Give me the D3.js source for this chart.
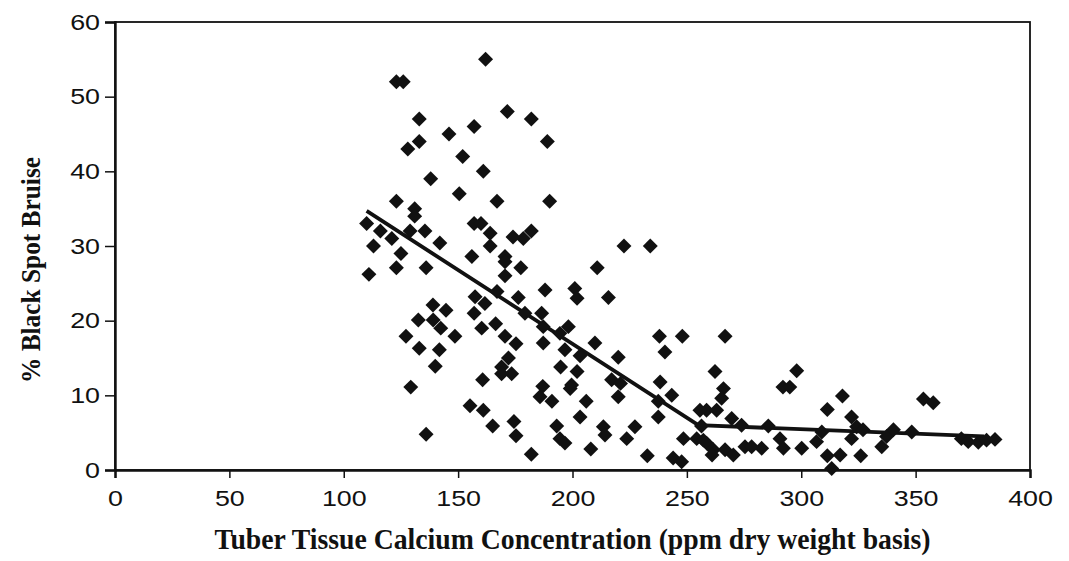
<!DOCTYPE html>
<html>
<head>
<meta charset="utf-8">
<script src="https://cdn.jsdelivr.net/npm/d3@7"></script>
<style>
  html, body { margin: 0; padding: 0; background: #fff; }
  svg { display: block; }
</style>
</head>
<body>
<svg id="chart" width="1069" height="561"></svg>
<script>
// ---- data ----
const xTicks = [0, 50, 100, 150, 200, 250, 300, 350, 400];
const yTicks = [0, 10, 20, 30, 40, 50, 60];
const xTitle = "Tuber Tissue Calcium Concentration (ppm dry weight basis)";
const yTitle = "% Black Spot Bruise";

const calcium = [
  162,123,126,133,171.5,182,157,146,189,133,128,152,161,138,150.5,167,190,123,131,131,110,157,160,116,121,129,135.5,164,182,178.5,174,142,164,113,125,156,170.5,
  111,123,136,170.5,177.4,170.5,188,167,176.3,157.4,161.7,157,179.2,186.5,139,144.7,132.6,139.1,142.4,160.3,166.4,148.6,127.2,170.5,175.3,187.2,187.2,133,141.8,140,172,169,173.4,169,160.7,129.3,187,185.8,155.2,161,165.1,174.4,175.3,136,182,
  222.5,234,210.8,201,202,215.7,198.2,
  194.5,196.7,209.8,220,203.3,194.8,202,199.6,217.1,221,220,206,191,203.3,193.1,213.5,214.2,227.3,223.7,196.7,194.5,208,232.7,238,248,266.7,240.4,238.3,243.4,237.5,237.5,262.3,266,265.2,258.6,263,269.6,273.9,256.4,248.5,254.3,258.6,261.6,266.7,270.3,275.4,244,247.7,261,199,255.7,257.2,
  298,292,295,318,311.4,322,324.2,327,322,285.6,290.7,292.2,282.7,278.3,300.2,309,306.7,311.4,317,326,313.3,335.2,337.3,340.3,
  353.4,357.7,348.3,370,373,377.4,381,384.7
];
const bruise = [
  55,52,52,47,48,47,46,45,44,44,43,42,40,39,37,36,36,36,35,34,33,33,33,32,31,32,32,31.7,32,31,31.2,30.4,30,30,29,28.6,28.6,
  26.2,27.1,27.1,27.9,27.1,26,24.1,23.9,23.1,23.2,22.3,21,21,21,22.1,21.4,20.1,20.1,19,19,19.6,17.9,17.9,17.9,16.9,19.2,17,16.3,16.1,13.9,15,13.8,12.9,12.9,12.1,11.1,11.2,9.8,8.6,8,5.9,6.5,4.6,4.8,2.1,
  30,30,27.1,24.3,23,23.1,19.2,
  18.3,16.1,17,15.1,15.3,13.8,13.2,11.4,12.1,11.6,9.8,9.2,9.2,7.1,5.9,5.8,4.7,5.8,4.2,3.6,4.2,2.8,1.9,17.9,17.9,17.9,15.8,11.8,10,9.2,7.1,13.2,10.9,9.6,8,8,6.9,6,5.9,4.2,4.2,3.6,2.7,2.7,2,3.1,1.6,1.1,2,10.9,8,4,
  13.3,11.1,11.1,9.9,8.1,7.1,5.8,5.4,4.2,5.9,4.2,2.9,2.9,3.1,2.9,5.1,3.8,1.9,2,1.9,0.2,3.1,4.5,5.4,
  9.5,9,5.1,4.2,3.8,3.7,4,4.1
];
// fitted broken-line regression (two segments)
const fitX = [110, 255, 380];
const fitY = [34.7, 6.0, 4.5];

// ---- chart ----
const svg = d3.select("#chart");
const x = d3.scaleLinear().domain([0, 400]).range([115, 1030]);
const y = d3.scaleLinear().domain([0, 60]).range([470, 22]);
const ink = "#111";

// frame
svg.append("rect")
  .attr("x", x(0)).attr("y", y(60))
  .attr("width", x(400) - x(0)).attr("height", y(0) - y(60))
  .attr("fill", "none").attr("stroke", ink).attr("stroke-width", 1.8);

// axes
const yAxis = svg.append("g").attr("transform", `translate(${x(0)},0)`)
  .call(d3.axisLeft(y).tickValues(yTicks).tickSize(10).tickPadding(5).tickFormat(d3.format("d")));
const xAxis = svg.append("g").attr("transform", `translate(0,${y(0)})`)
  .call(d3.axisBottom(x).tickValues(xTicks).tickSize(8).tickPadding(12).tickFormat(d3.format("d")));

[yAxis, xAxis].forEach(g => {
  g.select(".domain").attr("stroke", ink).attr("stroke-width", 2.4);
  g.selectAll(".tick line").attr("stroke", ink).attr("stroke-width", 1.5);
  g.selectAll(".tick text")
    .attr("fill", ink)
    .style("font-family", "'Liberation Sans', Arial, sans-serif")
    .style("font-size", "22px");
});
// slightly wide digits as in the reference
yAxis.selectAll(".tick text")
  .attr("transform", "translate(-15,0) scale(1.22,1) translate(15,0)");
xAxis.selectAll(".tick text").attr("transform", "scale(1.22,1)");

// regression line
svg.append("path")
  .datum(d3.range(fitX.length))
  .attr("fill", "none").attr("stroke", ink).attr("stroke-width", 3.8)
  .attr("d", d3.line().x(i => x(fitX[i])).y(i => y(fitY[i])));

// points
const diamond = d3.symbol().type(d3.symbolSquare).size(112);
svg.append("g").selectAll("path")
  .data(d3.range(calcium.length))
  .join("path")
  .attr("d", diamond)
  .attr("transform", i => `translate(${x(calcium[i])},${y(bruise[i])}) rotate(45)`)
  .attr("fill", ink);

// titles
svg.append("text")
  .attr("x", (x(0) + x(400)) / 2).attr("y", 549)
  .attr("text-anchor", "middle")
  .attr("textLength", 716).attr("lengthAdjust", "spacingAndGlyphs")
  .style("font-family", "'Liberation Serif', 'Times New Roman', serif")
  .style("font-weight", "bold").style("font-size", "29px")
  .attr("fill", ink)
  .text(xTitle);

svg.append("text")
  .attr("transform", "translate(40,270) rotate(-90)")
  .attr("text-anchor", "middle")
  .attr("textLength", 226).attr("lengthAdjust", "spacingAndGlyphs")
  .style("font-family", "'Liberation Serif', 'Times New Roman', serif")
  .style("font-weight", "bold").style("font-size", "28px")
  .attr("fill", ink)
  .text(yTitle);
</script>
</body>
</html>
